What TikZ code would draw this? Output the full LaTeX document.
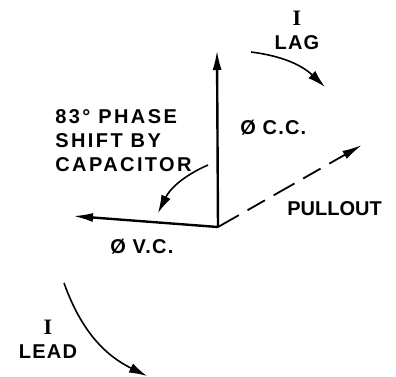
\documentclass[tikz,border=0pt]{standalone}
\usepackage{fontspec}
\setmainfont{Liberation Sans}
\newfontfamily\spaced{Liberation Sans}[LetterSpace=12]
\newfontfamily\lessspaced{Liberation Sans}[LetterSpace=6]
\newfontfamily\serifI{Liberation Serif}
\usepackage{tikz}
\usetikzlibrary{arrows.meta, positioning}

\begin{document}
\begin{tikzpicture}[x=0.5pt, y=-0.5pt,
    vec/.style={line width=1.2pt, -{Latex[length=10pt,width=4.5pt]}},
    turn/.style={line width=0.8pt, -{Latex[length=9pt,width=5pt]}},
    lbl/.style={font=\fontsize{10}{11}\selectfont\bfseries, inner sep=0pt}]
    \useasboundingbox (0,0) rectangle (396,376);
    % phasors
    \coordinate (o) at (218,227);
    \coordinate (cc) at (217,50);
    \coordinate (vc) at (73,216);
    \coordinate (po) at (362,145);
    \draw[vec] (o) -- (cc);
    \draw[vec] (o) -- (vc);
    \draw[vec, line width=0.9pt, dash pattern=on 12pt off 5pt on 10pt off 5pt] (o) -- (po);
    % labels
    \node[lbl, font=\fontsize{11}{12}\selectfont\serifI\bfseries] (ilag) at (297,18) {I};
    \node[lbl, below=5pt of ilag] (lag) {\lessspaced LAG};
    \node[lbl, anchor=west, align=left] (shift) at (55,141)
      {\spaced 83° PHASE\\[1pt]\spaced SHIFT BY\\[1pt]\spaced CAPACITOR};
    \node[lbl, anchor=west] (ccl) at (240,128) {\lessspaced Ø C.C.};
    \node[lbl, anchor=west] (pull) at (287,209) {PULLOUT};
    \node[lbl, anchor=west] (vcl) at (110,247) {\lessspaced Ø V.C.};
    \node[lbl, font=\fontsize{11}{12}\selectfont\serifI\bfseries] (ilead) at (48,327) {I};
    \node[lbl, below=5pt of ilead] (lead) {\lessspaced LEAD};
    % rotation arcs
    \coordinate (lag1) at (251,52);
    \coordinate (lag2) at (325,87);
    \coordinate (cap1) at (208,165);
    \coordinate (cap2) at (158,213);
    \coordinate (lead1) at (64,283);
    \coordinate (lead2) at (147,376);
    \draw[turn] (lag1) to[bend left=18] (lag2);
    \draw[turn] (cap1) to[bend right=20] (cap2);
    \draw[turn] (lead1) to[bend right=22] (lead2);
\end{tikzpicture}
\end{document}
